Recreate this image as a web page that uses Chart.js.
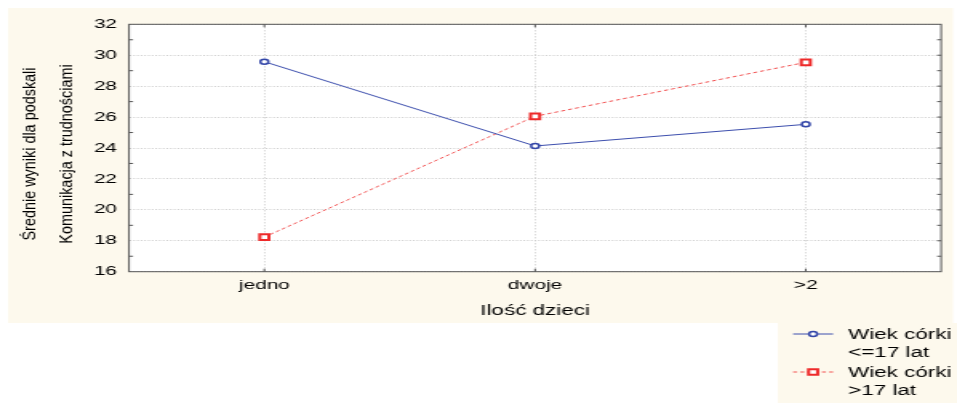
<!DOCTYPE html>
<html>
<head>
<meta charset="utf-8">
<script src="https://cdn.jsdelivr.net/npm/chart.js@4.4.0/dist/chart.umd.min.js"></script>
<style>
  html, body { margin: 0; padding: 0; background: #fff; }
</style>
</head>
<body>
<canvas id="chart" width="598" height="403" style="display:block;width:957px;height:403px"></canvas>
<script>
const categories = ['jedno', 'dwoje', '>2'];
const upTo17 = [29.58, 24.13, 25.53];
const over17 = [18.24, 26.05, 29.54];
const seriesLabels = [['Wiek córki', '<=17 lat'], ['Wiek córki', '>17 lat']];
const yMin = 16, yMax = 32, yStep = 2;
const yTitle = ['Średnie wyniki dla podskali', 'Komunikacja z trudnościami'];
const xTitle = 'Ilość dzieci';

// the source picture is stretched sideways, so the canvas is drawn narrow (598px) and widened by css
const FONT = '"Liberation Sans", Arial, sans-serif';
const CREAM = '#fdf9ed';
const INK = '#000';

const backdrop = {
  id: 'backdrop',
  beforeDraw(chart) {
    const {ctx, chartArea: a} = chart;
    ctx.save();
    ctx.fillStyle = CREAM;
    ctx.fillRect(5, 8, 590.5, 315);
    ctx.fillRect(486, 323, 112, 80);
    ctx.fillStyle = '#fff';
    ctx.fillRect(a.left, a.top, a.right - a.left, a.bottom - a.top);
    ctx.restore();
  }
};

const frame = {
  id: 'frame',
  afterDraw(chart) {
    const {ctx, chartArea: a, scales} = chart;
    ctx.save();
    ctx.strokeStyle = '#555';
    ctx.lineWidth = 1;
    ctx.strokeRect(a.left, a.top, a.right - a.left, a.bottom - a.top);

    // little inner tick marks on the frame
    ctx.beginPath();
    for (let v = yMin + 1; v < yMax; v++) {
      const y = scales.y.getPixelForValue(v);
      ctx.moveTo(a.right, y); ctx.lineTo(a.right - 2.5, y);
      if (v % 2) { ctx.moveTo(a.left, y); ctx.lineTo(a.left + 2.5, y); }
    }
    categories.forEach((c, i) => {
      const x = scales.x.getPixelForValue(i);
      ctx.moveTo(x, a.top); ctx.lineTo(x, a.top + 3);
      ctx.moveTo(x, a.bottom); ctx.lineTo(x, a.bottom - 3);
    });
    ctx.stroke();

    // y title, two rotated lines
    ctx.fillStyle = INK;
    ctx.font = '11px ' + FONT;
    ctx.textAlign = 'center';
    ctx.textBaseline = 'middle';
    const cy = (a.top + a.bottom) / 2 + 6;
    [18.6, 42.3].forEach((x, i) => {
      ctx.save();
      ctx.translate(x, cy);
      ctx.rotate(-Math.PI / 2);
      ctx.scale(1.31, 1);
      ctx.fillText(yTitle[i], 0, 0);
      ctx.restore();
    });
    ctx.restore();
  }
};

const sideLegend = {
  id: 'sideLegend',
  afterDraw(chart) {
    const ctx = chart.ctx;
    const rows = [334, 372];
    chart.data.datasets.forEach((ds, i) => {
      const y = rows[i];
      ctx.save();
      ctx.strokeStyle = ds.borderColor;
      ctx.lineWidth = ds.borderWidth;
      ctx.setLineDash(ds.borderDash || []);
      ctx.beginPath();
      ctx.moveTo(495.6, y);
      ctx.lineTo(520.6, y);
      ctx.stroke();
      ctx.setLineDash([]);
      ctx.fillStyle = ds.pointBackgroundColor;
      ctx.strokeStyle = ds.pointBorderColor;
      ctx.lineWidth = ds.pointBorderWidth;
      Chart.helpers.drawPoint(ctx, {
        pointStyle: ds.pointStyle, radius: ds.pointRadius, rotation: 0, borderWidth: ds.pointBorderWidth
      }, 508.1, y);
      ctx.fillStyle = INK;
      ctx.font = '14px ' + FONT;
      ctx.textAlign = 'left';
      ctx.textBaseline = 'middle';
      seriesLabels[i].forEach((t, j) => ctx.fillText(t, 530, y + 1 + j * 18.5));
      ctx.restore();
    });
  }
};

new Chart(document.getElementById('chart'), {
  type: 'line',
  data: {
    labels: categories,
    datasets: [{
      label: seriesLabels[0].join(' '),
      data: upTo17,
      borderColor: '#3d4fae',
      borderWidth: 1,
      tension: 0,
      pointStyle: 'circle',
      pointRadius: 2.5,
      pointBorderWidth: 1.5,
      pointBackgroundColor: '#fff',
      pointBorderColor: '#3346a8'
    }, {
      label: seriesLabels[1].join(' '),
      data: over17,
      borderColor: '#f35050',
      borderWidth: 1,
      borderDash: [2.5, 2],
      tension: 0,
      pointStyle: 'rect',
      pointRadius: 4,
      pointBorderWidth: 2,
      pointBackgroundColor: '#fff',
      pointBorderColor: '#ee2a2a'
    }]
  },
  options: {
    responsive: false,
    devicePixelRatio: 1,
    animation: false,
    events: [],
    layout: {
      autoPadding: false,
      padding: { left: 0, top: 24.3, right: 9.9, bottom: 81.3 }
    },
    plugins: {
      legend: { display: false },
      tooltip: { enabled: false }
    },
    scales: {
      x: {
        type: 'category',
        offset: true,
        afterFit(scale) { scale.height = 50; },
        grid: { color: '#cdcdcd', drawTicks: false },
        border: { display: false, dash: [1, 2] },
        ticks: { font: { family: FONT, size: 13 }, color: INK, padding: 5.5 },
        title: {
          display: true, text: xTitle, color: INK,
          font: { family: FONT, size: 14 }, padding: { top: 0, bottom: 2.4 }
        }
      },
      y: {
        min: yMin,
        max: yMax,
        afterFit(scale) { scale.width = 80.6; },
        grid: { color: '#cdcdcd', drawTicks: false },
        border: { display: false, dash: [1, 1.3] },
        ticks: { stepSize: yStep, font: { family: FONT, size: 13 }, color: INK, padding: 7.5 }
      }
    }
  },
  plugins: [backdrop, frame, sideLegend]
});
</script>
</body>
</html>
